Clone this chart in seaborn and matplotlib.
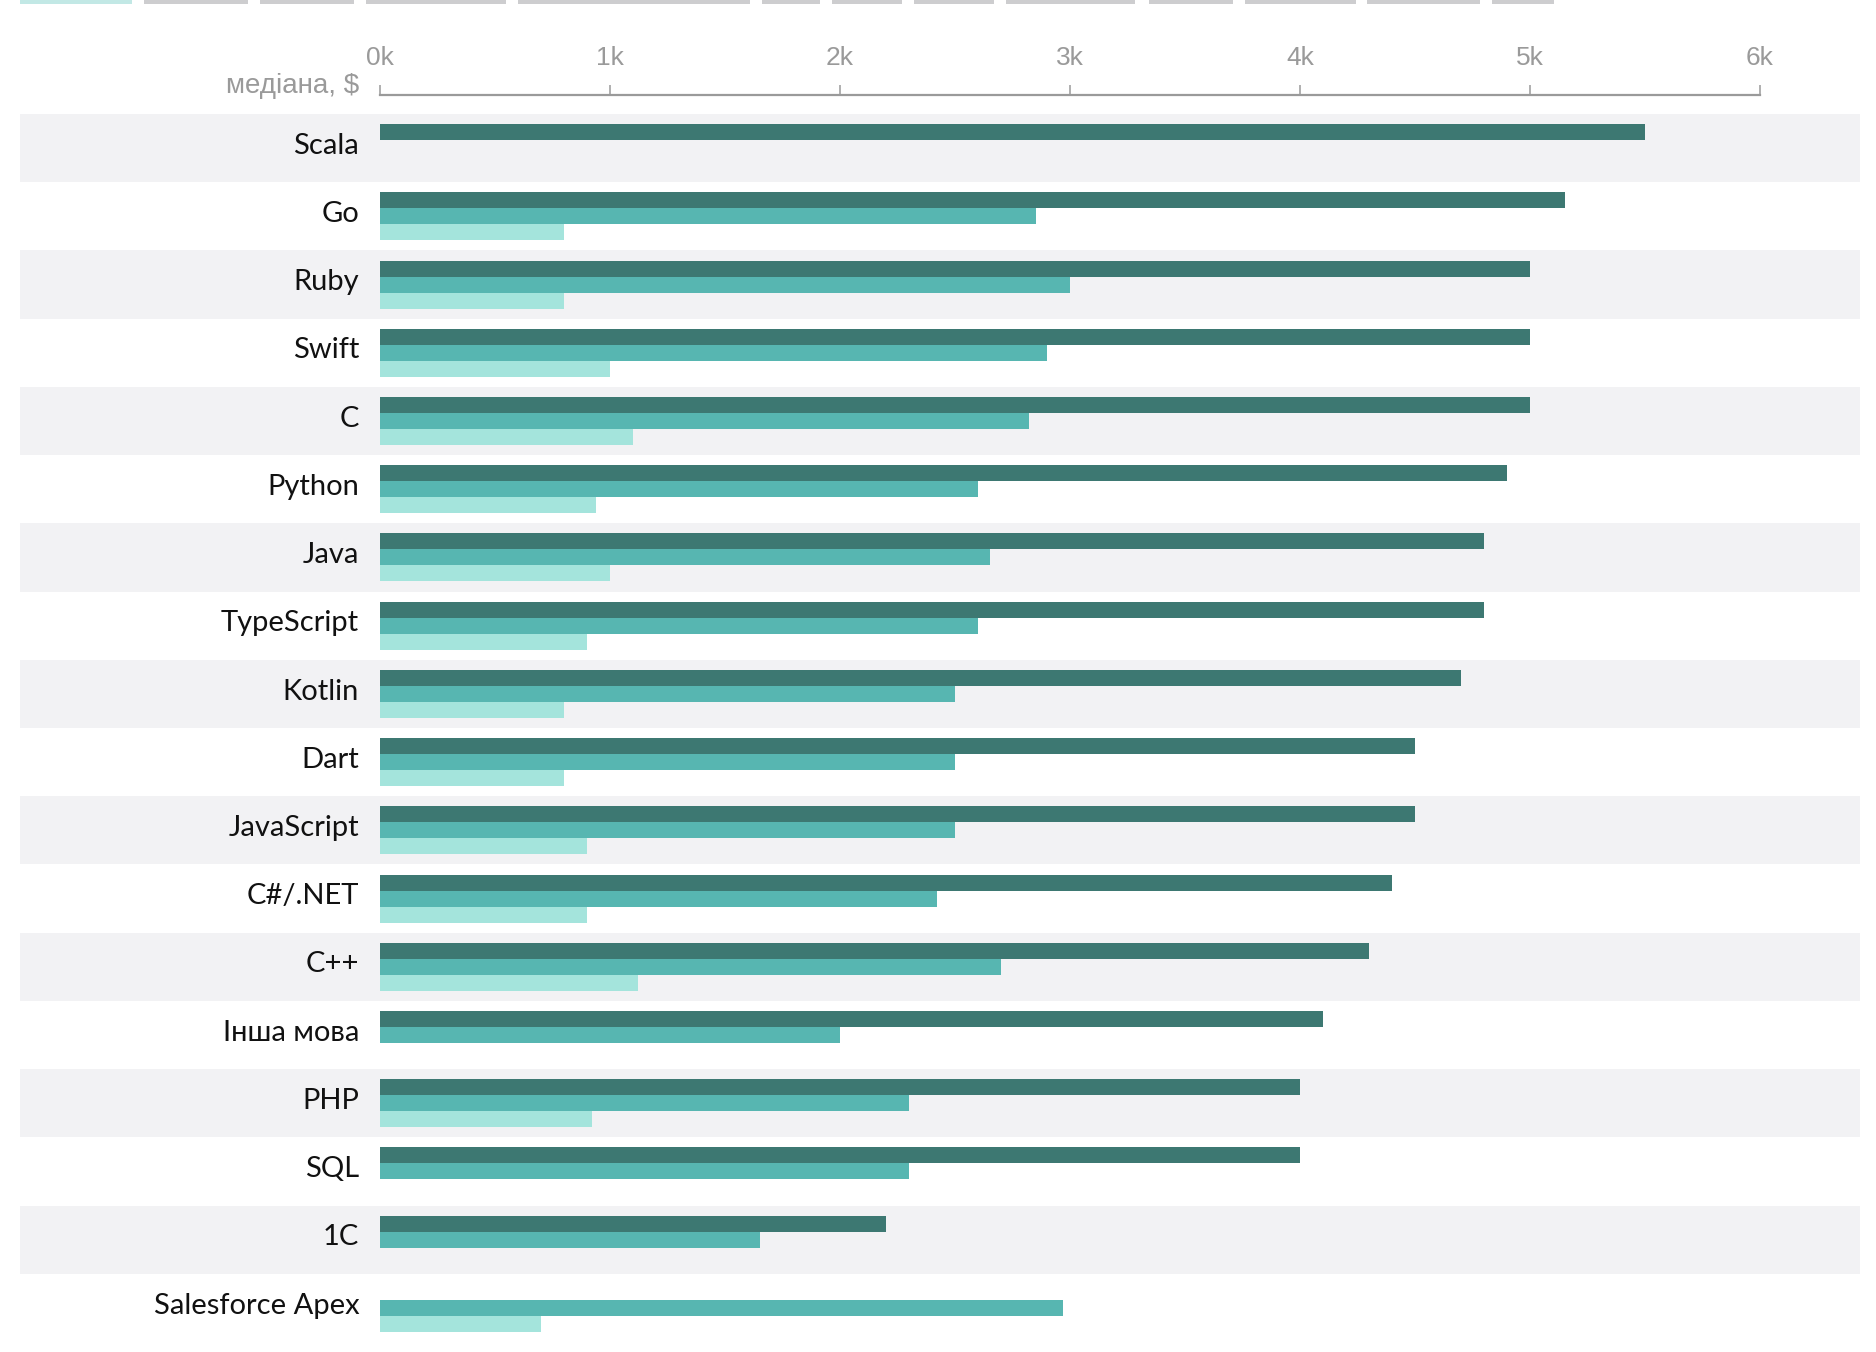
import numpy as np
import pandas as pd
import matplotlib
matplotlib.use("Agg")
import matplotlib.pyplot as plt
import matplotlib.transforms as mtransforms
from matplotlib.patches import Rectangle
import seaborn as sns

# Мови програмування (згори донизу)
languages = ["Scala", "Go", "Ruby", "Swift", "C", "Python", "Java", "TypeScript",
             "Kotlin", "Dart", "JavaScript", "C#/.NET", "C++", "Інша мова",
             "PHP", "SQL", "1C", "Salesforce Apex"]

# Медіана зарплати, $ (NaN = немає даних)
senior = [5500, 5150, 5000, 5000, 5000, 4900, 4800, 4800, 4700, 4500, 4500,
          4400, 4300, 4100, 4000, 4000, 2200, np.nan]
middle = [np.nan, 2850, 3000, 2900, 2820, 2600, 2650, 2600, 2500, 2500, 2500,
          2420, 2700, 2000, 2300, 2300, 1650, 2970]
junior = [np.nan, 800, 800, 1000, 1100, 940, 1000, 900, 800, 800, 900,
          900, 1120, np.nan, 920, np.nan, np.nan, 700]

levels = ["senior", "middle", "junior"]
level_colors = ["#3d7872", "#57b6b1", "#a4e4dc"]

x_ticks = [0, 1000, 2000, 3000, 4000, 5000, 6000]
x_tick_labels = ["0k", "1k", "2k", "3k", "4k", "5k", "6k"]
axis_label = "медіана, $"

df = pd.DataFrame({
    "мова": languages * 3,
    "рівень": [levels[0]] * len(languages) + [levels[1]] * len(languages) + [levels[2]] * len(languages),
    "зарплата": senior + middle + junior,
})

sns.set_style("white")
plt.rcParams["font.family"] = ["Lato", "DejaVu Sans"]

W, H = 1876, 1352
fig = plt.figure(figsize=(W / 100, H / 100), dpi=100)
ax = fig.add_axes([380 / W, 1 - 1342 / H, 1380 / W, (1342 - 114) / H])

sns.barplot(data=df, y="мова", x="зарплата", hue="рівень", order=languages,
            hue_order=levels, palette=level_colors, orient="h", width=0.705,
            errorbar=None, linewidth=0, saturation=1, ax=ax, zorder=3)

ax.set_xlim(0, 6000)
ax.set_ylim(len(languages) - 0.5, -0.5)
ax.set_xlabel("")
ax.set_ylabel("")
if ax.get_legend() is not None:
    ax.get_legend().remove()

# смуги рядків
blend = mtransforms.blended_transform_factory(ax.transAxes, ax.transData)
x0 = (20 - 380) / 1380
x1 = (1860 - 380) / 1380
for i in range(0, len(languages), 2):
    ax.add_patch(Rectangle((x0, i - 0.5), x1 - x0, 1, transform=blend,
                           facecolor="#f2f2f4", edgecolor="none",
                           clip_on=False, zorder=0))

# вісь зверху
for s in ["left", "right", "bottom"]:
    ax.spines[s].set_visible(False)
ax.spines["top"].set_visible(True)
ax.spines["top"].set_color("#9a9a9a")
ax.spines["top"].set_linewidth(1.6)
ax.spines["top"].set_position(("outward", 13.5))
ax.xaxis.tick_top()
ax.set_xticks(x_ticks)
ax.set_xticklabels(x_tick_labels, family=["Liberation Sans", "DejaVu Sans"])
ax.tick_params(axis="x", direction="out", length=7, width=1.1, color="#9a9a9a",
               labelcolor="#9a9a9a", labelsize=19, pad=11)
ax.tick_params(axis="y", length=0, labelsize=21, labelcolor="#111111", pad=15)

# підняти підписи мов трохи вгору
lift = mtransforms.ScaledTranslation(0, 3.5 / 72, fig.dpi_scale_trans)
for lab in ax.get_yticklabels():
    lab.set_transform(lab.get_transform() + lift)

fig.text(359 / W, 1 - 93 / H, axis_label, ha="right", va="baseline",
         fontsize=20, color="#9a9a9a", family=["Liberation Sans", "DejaVu Sans"])

# верхня смужка вкладок
tabs = [(20, 132), (144, 248), (260, 354), (366, 506), (518, 750), (762, 820),
        (832, 902), (914, 994), (1006, 1135), (1149, 1233), (1245, 1356),
        (1367, 1480), (1492, 1554)]
for k, (a, b) in enumerate(tabs):
    fig.add_artist(Rectangle((a / W, 1 - 4 / H), (b - a) / W, 4 / H,
                             transform=fig.transFigure,
                             facecolor="#c2e8e5" if k == 0 else "#cdcdcf",
                             edgecolor="none"))

fig.savefig("out.png", dpi=100, facecolor="white")
